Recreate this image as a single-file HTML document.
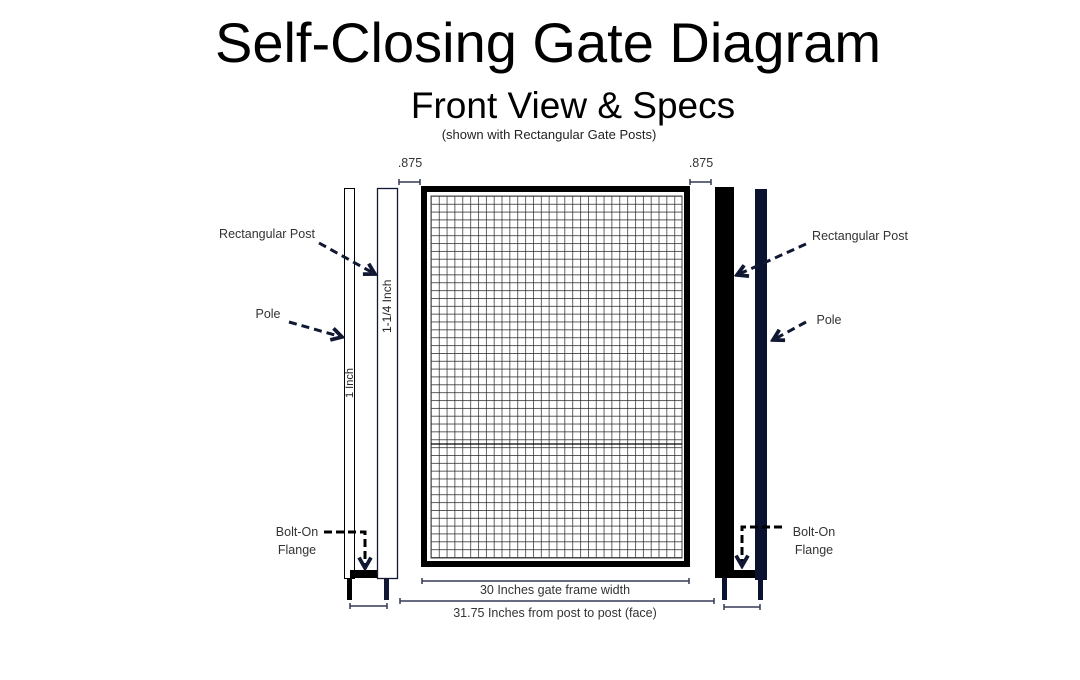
<!DOCTYPE html>
<html><head><meta charset="utf-8"><style>
body{margin:0;background:#fff;width:1080px;height:675px;overflow:hidden;font-family:"Liberation Sans",sans-serif}
</style></head><body>
<svg width="1080" height="675" xmlns="http://www.w3.org/2000/svg" font-family="Liberation Sans, sans-serif">
<defs>
<pattern id="g" x="431" y="196" width="7.85" height="7.85" patternUnits="userSpaceOnUse">
<path d="M0 0V7.85M0 0H7.85" stroke="#222" stroke-width="1.4" fill="none"/>
</pattern>
<marker id="a" viewBox="0 0 10 10" refX="8" refY="5" markerWidth="5" markerHeight="5" orient="auto"><path d="M1 1L8 5L1 9" fill="none" stroke="#111833" stroke-width="2.5"/></marker>
</defs>
<text x="548" y="62" font-size="56" text-anchor="middle" fill="#000">Self-Closing Gate Diagram</text>
<text x="573" y="118" font-size="37" text-anchor="middle" fill="#000">Front View &amp; Specs</text>
<text x="549" y="139" font-size="13" text-anchor="middle" fill="#222">(shown with Rectangular Gate Posts)</text>
<!-- gate -->
<rect x="424" y="189" width="263" height="375" fill="#fff" stroke="#000" stroke-width="6"/>
<rect x="431" y="196" width="251" height="362" fill="url(#g)"/>
<rect x="431" y="196" width="251" height="362" fill="none" stroke="#444" stroke-width="1"/>
<line x1="431" y1="444" x2="682" y2="444" stroke="#000" stroke-width="1.2"/>
<!-- left pole/post -->
<rect x="344.5" y="188.5" width="10" height="390" fill="#fff" stroke="#000"/>
<rect x="377.5" y="188.5" width="20" height="390" fill="#fff" stroke="#111833" stroke-width="1.3"/>
<rect x="350" y="570" width="27" height="8" fill="#000"/>
<rect x="347" y="578" width="5" height="22" fill="#000"/>
<rect x="384" y="578" width="5" height="22" fill="#111833"/>
<text transform="translate(353,398) rotate(-90)" font-size="11" fill="#222">1 Inch</text>
<text transform="translate(391,333) rotate(-90)" font-size="12" fill="#222">1-1/4 Inch</text>
<!-- right -->
<rect x="715" y="187" width="19" height="391" fill="#000"/>
<rect x="755" y="189" width="12" height="391" fill="#0b1230"/>
<rect x="734" y="570" width="21" height="8" fill="#000"/>
<rect x="722" y="578" width="5" height="22" fill="#0b1230"/>
<rect x="758" y="578" width="5" height="22" fill="#0b1230"/>
<!-- dims -->
<g stroke="#333a55" stroke-width="1.5">
<path d="M399 182H420M399 179V185M420 179V185"/>
<path d="M690 182H711M690 179V185M711 179V185"/>
<path d="M422 581H689M422 578V584M689 578V584"/>
<path d="M400 601H714M400 598V604M714 598V604"/>
<path d="M350 606H387M350 603V609M387 603V609"/>
<path d="M724 607H760M724 604V610M760 604V610"/>
</g>
<g font-size="12.5" fill="#333" text-anchor="middle">
<text x="410" y="167">.875</text>
<text x="701" y="167">.875</text>
<text x="555" y="594">30 Inches gate frame width</text>
<text x="555" y="617">31.75 Inches from post to post (face)</text>
<text x="267" y="238">Rectangular Post</text>
<text x="268" y="318">Pole</text>
<text x="860" y="240">Rectangular Post</text>
<text x="829" y="324">Pole</text>
<text x="297" y="536">Bolt-On</text>
<text x="297" y="554">Flange</text>
<text x="814" y="536">Bolt-On</text>
<text x="814" y="554">Flange</text>
</g>
<!-- arrows -->
<g stroke="#111833" stroke-width="3" stroke-dasharray="8,5" fill="none" marker-end="url(#a)">
<path d="M319 243L375 274"/>
<path d="M289 322L342 337"/>
<path d="M806 244L737 275"/>
<path d="M806 322L773 340"/>
</g>
<g stroke="#000" stroke-width="3" stroke-dasharray="8,4" fill="none">
<path d="M324 532H365V568" marker-end="url(#a)"/>
<path d="M782 527H742V566" marker-end="url(#a)"/>
</g>
</svg>
</body></html>
